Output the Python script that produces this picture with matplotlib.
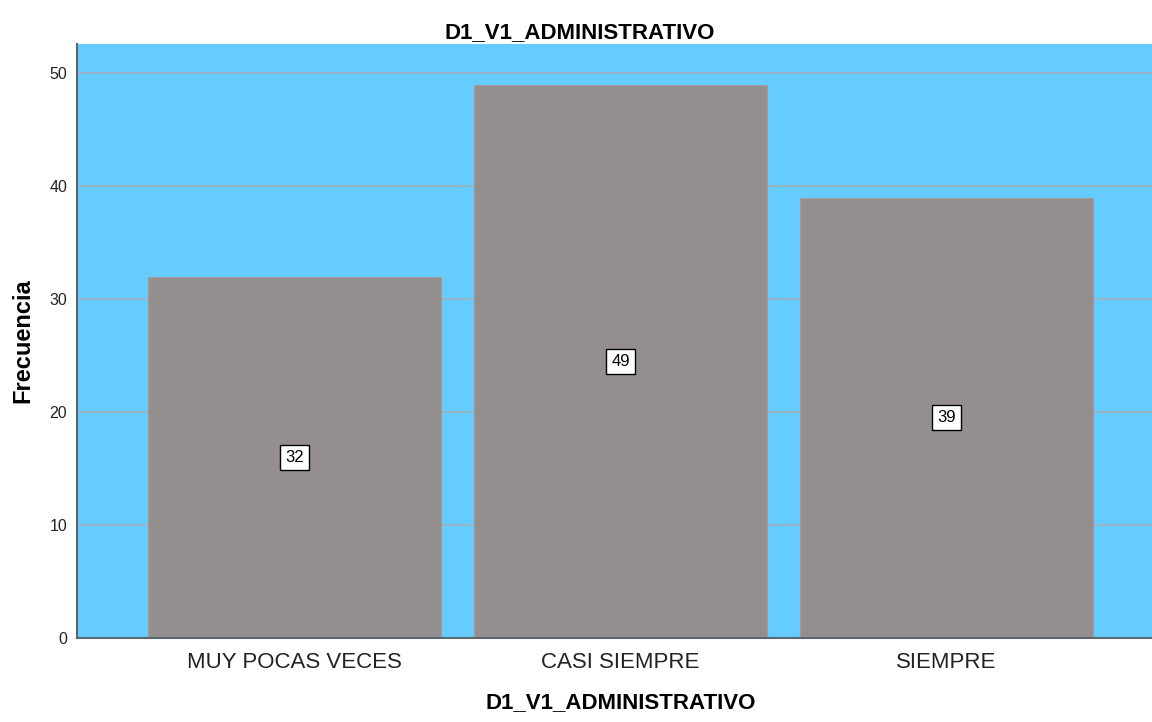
import matplotlib.pyplot as plt
import numpy as np

plt.rcParams['font.family'] = ['Liberation Sans', 'DejaVu Sans']

categories = ['MUY POCAS VECES', 'CASI SIEMPRE', 'SIEMPRE']
frecuencia = [32, 49, 39]
yticks = [0, 10, 20, 30, 40, 50]
title = 'D1_V1_ADMINISTRATIVO'

fig = plt.figure(figsize=(11.52, 7.22), dpi=100)
ax = fig.add_axes([0.0668, 0.1163, 0.9436, 0.8227])
ax.set_facecolor('#66CCFF')

x = np.arange(len(categories))
ax.yaxis.grid(True, color='#9eb0bc', linewidth=1.2)
ax.set_axisbelow(True)
bars = ax.bar(x, frecuencia, width=0.9, color='#948F8E', edgecolor='#a09c9b', linewidth=0.8, zorder=2)

# value labels at half height, boxed like SPSS
for xi, v in zip(x, frecuencia):
    ax.text(xi, v / 2, str(v), ha='center', va='center', fontsize=12, zorder=3,
            bbox=dict(boxstyle='square,pad=0.3', facecolor='white', edgecolor='black', linewidth=1))

ax.set_xlim(-0.667, 2.667)
ax.set_ylim(0, 52.6)
ax.set_yticks(yticks)
ax.set_xticks(x)
ax.set_xticklabels(categories, fontsize=16, color='#222222')
ax.tick_params(axis='y', length=0, pad=7, labelsize=11.5, labelcolor='#222222')
ax.tick_params(axis='x', length=0, pad=10)

for s in ['top', 'right']:
    ax.spines[s].set_visible(False)
for s in ['left', 'bottom']:
    ax.spines[s].set_color('#5a6670')
    ax.spines[s].set_linewidth(1.5)

ax.set_ylabel('Frecuencia', fontsize=17, fontweight='bold', labelpad=11)
ax.set_xlabel(title, fontsize=16, fontweight='bold', labelpad=14)
fig.text(0.503, 0.955, title, ha='center', va='center', fontsize=16, fontweight='bold')

fig.savefig('out.png', dpi=100)
